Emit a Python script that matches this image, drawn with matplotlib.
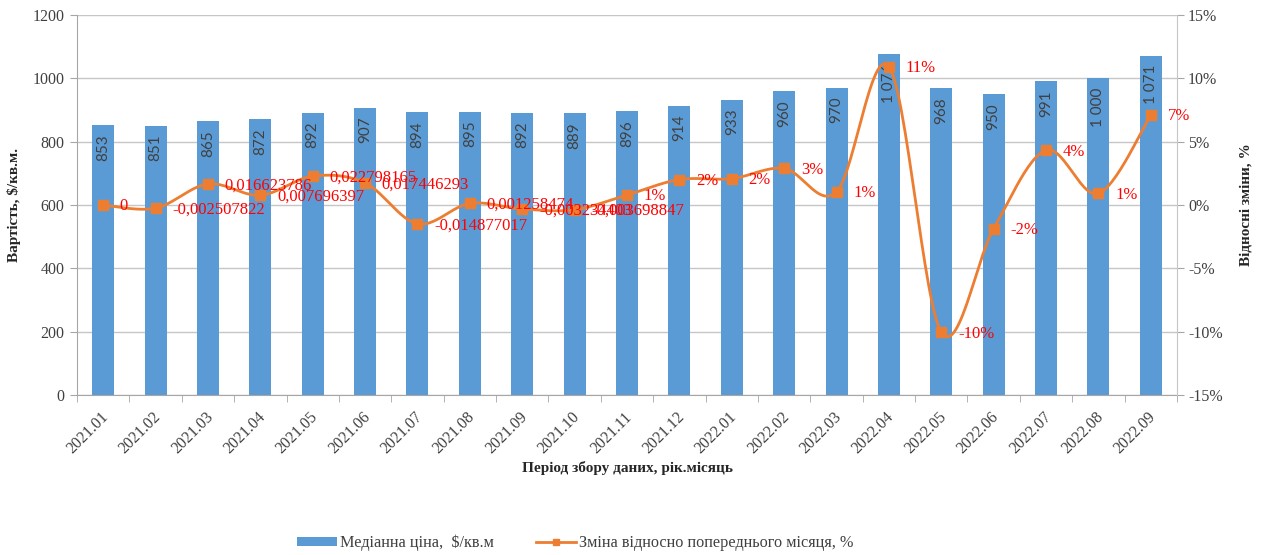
import numpy as np
import matplotlib
matplotlib.use("Agg")
import matplotlib.pyplot as plt
import matplotlib.transforms as mtransforms
from matplotlib.patches import Rectangle
from matplotlib.lines import Line2D

plt.rcParams['font.family'] = ['Liberation Serif', 'DejaVu Serif']

periods = ["2021.01", "2021.02", "2021.03", "2021.04", "2021.05", "2021.06", "2021.07",
           "2021.08", "2021.09", "2021.10", "2021.11", "2021.12", "2022.01", "2022.02",
           "2022.03", "2022.04", "2022.05", "2022.06", "2022.07", "2022.08", "2022.09"]
median_price = [853, 851, 865, 872, 892, 907, 894, 895, 892, 889, 896, 914, 933, 960,
                970, 1076, 968, 950, 991, 1000, 1071]
monthly_change = [0, -0.002507822, 0.016623786, 0.007696397, 0.022798165, 0.017446293,
                  -0.014877017, 0.001258474, -0.003234403, -0.003698847, 0.0079, 0.0201,
                  0.0208, 0.0289, 0.0104, 0.1093, -0.1004, -0.0186, 0.0432, 0.0091, 0.071]
# the first months carry unformatted labels, the rest are shown as whole percents
raw_label_months = 10

BLUE = "#5B9BD5"
ORANGE = "#ED7D31"
GRID = "#c6c6c6"
TXT = "#404040"

fig = plt.figure(figsize=(12.64, 5.55), dpi=100)
ax = fig.add_axes([77 / 1264, 160 / 555, 1100 / 1264, 380 / 555])
ax2 = ax.twinx()

x = np.arange(len(periods))
ax.bar(x, median_price, width=0.42, color=BLUE, zorder=2)
ax.set_xlim(-0.5, len(periods) - 0.5)
ax.set_ylim(0, 1200)
ax.set_yticks(np.arange(0, 1201, 200))
ax.yaxis.grid(True, color=GRID, linewidth=1.0, zorder=0)
ax.set_axisbelow(True)

for xi, v in zip(x, median_price):
    s = f"{v:,}".replace(",", "\u00a0")
    ax.annotate(s, (xi, v), xytext=(0, -6.5), textcoords="offset points",
                rotation=90, ha="center", va="top", fontsize=11, family="Lato",
                color="#404040", zorder=3)

# Excel-style smoothed line: cubic Bezier segments with Catmull-Rom control points
def smooth(xs, ys, n=30):
    xs = np.asarray(xs, float)
    ys = np.asarray(ys, float)
    px = np.concatenate([[xs[0]], xs, [xs[-1]]])
    py = np.concatenate([[ys[0]], ys, [ys[-1]]])
    outx, outy = [], []
    t = np.linspace(0, 1, n)
    for i in range(1, len(px) - 2):
        p0 = np.array([px[i], py[i]])
        p3 = np.array([px[i + 1], py[i + 1]])
        c1 = p0 + (np.array([px[i + 1], py[i + 1]]) - np.array([px[i - 1], py[i - 1]])) / 6
        c2 = p3 - (np.array([px[i + 2], py[i + 2]]) - np.array([px[i], py[i]])) / 6
        b = ((1 - t) ** 3)[:, None] * p0 + (3 * (1 - t) ** 2 * t)[:, None] * c1 \
            + (3 * (1 - t) * t ** 2)[:, None] * c2 + (t ** 3)[:, None] * p3
        outx.extend(b[:, 0])
        outy.extend(b[:, 1])
    return np.array(outx), np.array(outy)

sx, sy = smooth(x, monthly_change)
ax2.plot(sx, sy, color=ORANGE, linewidth=2.0, zorder=4, solid_capstyle="round")
ax2.plot(x, monthly_change, linestyle="none", marker="s", markersize=6.5,
         color=ORANGE, zorder=5)
ax2.set_ylim(-0.15, 0.15)
pct_ticks = np.arange(-0.15, 0.151, 0.05)
ax2.set_yticks(pct_ticks)
ax2.set_yticklabels([f"{round(v * 100)}%" for v in pct_ticks])

for i, (xi, v) in enumerate(zip(x, monthly_change)):
    if i < raw_label_months:
        s = "0" if v == 0 else f"{v:.9f}".replace(".", ",")
    else:
        s = f"{round(v * 100):.0f}%"
    ax2.annotate(s, (xi, v), xytext=(12, -1), textcoords="offset points",
                 ha="left", va="center", fontsize=12, color="#ff0000", zorder=6)

# axes styling
for a in (ax, ax2):
    a.spines["top"].set_visible(False)
ax.spines["left"].set_color("#a6a6a6")
ax.spines["bottom"].set_color("#a6a6a6")
ax.spines["right"].set_visible(False)
ax2.spines["left"].set_visible(False)
ax2.spines["bottom"].set_visible(False)
ax2.spines["right"].set_color("#c6c6c6")

ax.tick_params(axis="y", length=5, color="#a6a6a6", labelsize=11.5, labelcolor=TXT, pad=4)
ax2.tick_params(axis="y", length=5, color="#a6a6a6", labelsize=11.5, labelcolor=TXT, pad=3)

ax.set_xticks(x)
ax.set_xticklabels(periods, rotation=45, ha="right", rotation_mode="anchor",
                   fontsize=11.5, color=TXT)
ax.tick_params(axis="x", length=0, pad=10)
shift = mtransforms.ScaledTranslation(-3 / 100, 0, fig.dpi_scale_trans)
for lab in ax.get_xticklabels():
    lab.set_transform(lab.get_transform() + shift)
ax.set_xticks(np.arange(-0.5, len(periods), 1), minor=True)
ax.tick_params(axis="x", which="minor", length=5, color="#a6a6a6")

ax.set_ylabel("Вартість, $/кв.м.", fontsize=11, fontweight="bold", color="#262626", labelpad=8)
ax2.set_ylabel("Відносні зміни, %", fontsize=11, fontweight="bold", color="#262626",
               rotation=90, labelpad=12)
ax.set_xlabel("Період збору даних, рік.місяць", fontsize=11, fontweight="bold",
              color="#262626", labelpad=3)

handles = [Rectangle((0, 0), 1, 1, facecolor=BLUE, edgecolor="none"),
           Line2D([], [], color=ORANGE, linewidth=2.0, marker="s", markersize=5)]
leg = fig.legend(handles, ["Медіанна ціна,  $/кв.м", "Зміна відносно попереднього місяця, %"],
                 loc="center", bbox_to_anchor=(0.455, 0.0216), ncol=2, frameon=False,
                 fontsize=11.7, handlelength=2.45, handleheight=0.4, columnspacing=2.6,
                 handletextpad=0.2, borderpad=0, borderaxespad=0)
for t in leg.get_texts():
    t.set_color(TXT)

fig.savefig("out.png", dpi=100)
